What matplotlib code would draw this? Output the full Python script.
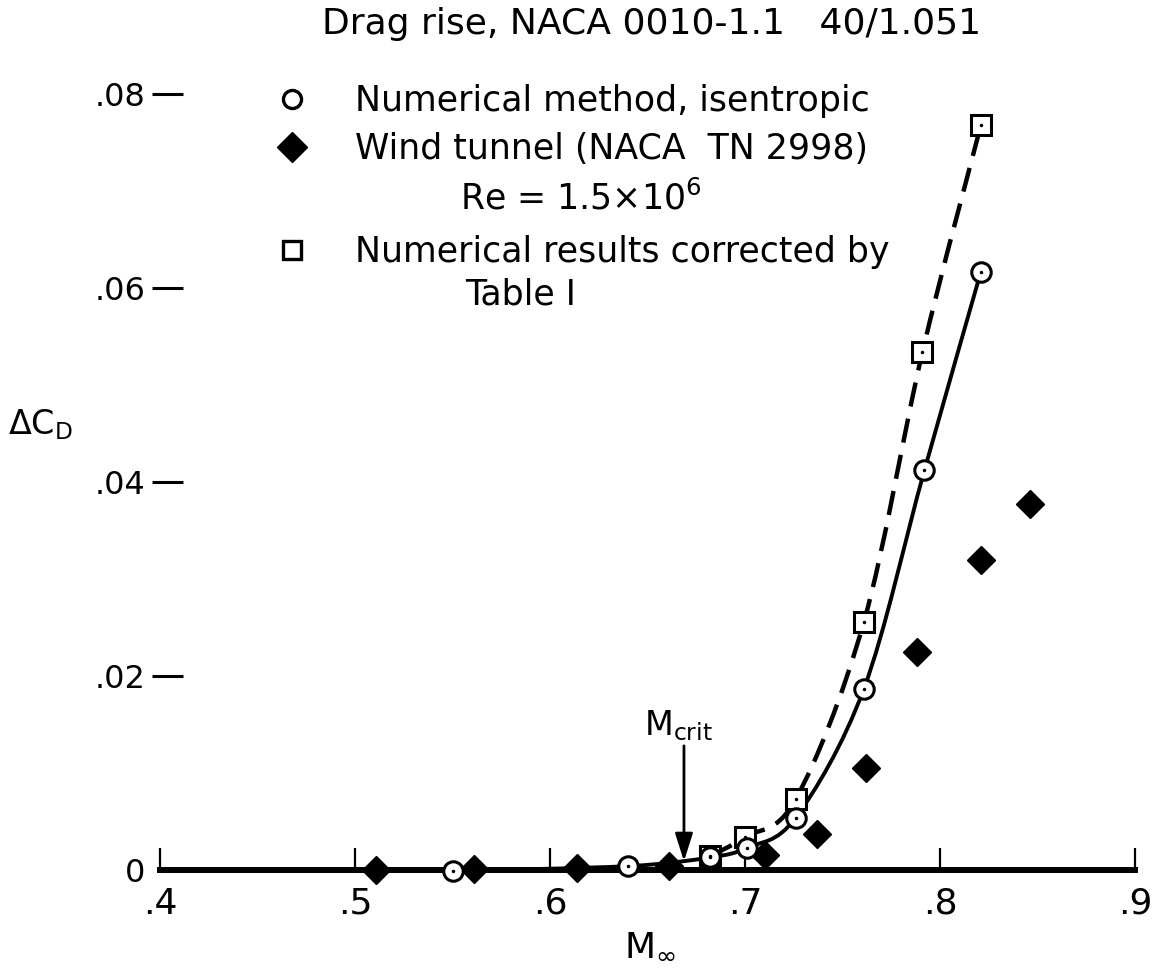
import matplotlib
matplotlib.use("Agg")
import matplotlib.pyplot as plt
import numpy as np
from matplotlib.path import Path
from matplotlib.patches import PathPatch
from matplotlib.lines import Line2D

plt.rcParams['font.family'] = ['DejaVu Sans']
plt.rcParams['mathtext.default'] = 'regular'

# numerical method, isentropic (open circles, solid curve)
mach_num = [0.550, 0.640, 0.682, 0.701, 0.726, 0.761, 0.792, 0.821]
cd_num = [-0.0001, 0.0004, 0.0013, 0.0023, 0.0054, 0.0187, 0.0412, 0.0617]

# numerical results corrected by Table I (open squares, dashed curve)
mach_corr = [0.682, 0.700, 0.726, 0.761, 0.791, 0.821]
cd_corr = [0.0014, 0.0034, 0.0073, 0.0256, 0.0534, 0.0768]

# wind tunnel, NACA TN 2998 (filled diamonds)
mach_wt = [0.511, 0.561, 0.614, 0.661, 0.710, 0.737, 0.762, 0.788, 0.821, 0.846]
cd_wt = [0.0000, 0.0001, 0.0002, 0.0004, 0.0015, 0.0037, 0.0105, 0.0225, 0.0320, 0.0377]

x_ticks = [0.4, 0.5, 0.6, 0.7, 0.8, 0.9]
x_ticklabels = ['.4', '.5', '.6', '.7', '.8', '.9']
y_ticks = [0.0, 0.02, 0.04, 0.06, 0.08]
y_ticklabels = ['0', '.02', '.04', '.06', '.08']

mach_crit = 0.6687

W, H = 1157, 969


def fx(px):
    return px / W


def fy(py):
    return 1 - py / H


def faired(xs, ys):
    # smooth fairing through the points (Catmull-Rom as cubic Bezier)
    pts = np.column_stack([xs, ys])
    verts = [pts[0]]
    codes = [Path.MOVETO]
    n = len(pts)
    for i in range(n - 1):
        p0 = pts[max(i - 1, 0)]
        p1 = pts[i]
        p2 = pts[i + 1]
        p3 = pts[min(i + 2, n - 1)]
        verts += [p1 + (p2 - p0) / 6, p2 - (p3 - p1) / 6, p2]
        codes += [Path.CURVE4] * 3
    return Path(verts, codes)


fig = plt.figure(figsize=(W / 100, H / 100), dpi=100)
ax = fig.add_axes([fx(160), 1 - 870 / H, 975 / W, 776 / H])
ax.set_xlim(0.4, 0.9)
ax.set_ylim(0, 0.08)

# curves
ax.add_patch(PathPatch(faired(mach_num, cd_num), fill=False, lw=2.8,
                       ec='black', zorder=2, clip_on=False))
ax.add_patch(PathPatch(faired(mach_corr, cd_corr), fill=False, lw=3.2,
                       ec='black', linestyle=(0, (5.5, 2.8)), capstyle='butt',
                       zorder=2, clip_on=False))

# markers
ax.plot(mach_wt, cd_wt, 'D', ms=14, color='black', mew=1, zorder=3, clip_on=False)
ax.plot(mach_corr, cd_corr, 's', ms=14, mfc='white', mec='black', mew=2.2,
        zorder=4, clip_on=False)
ax.plot(mach_num, cd_num, 'o', ms=14, mfc='white', mec='black', mew=2.2,
        zorder=5, clip_on=False)
ax.plot(mach_corr, cd_corr, '.', ms=3, color='black', zorder=6, clip_on=False)
ax.plot(mach_num, cd_num, '.', ms=3, color='black', zorder=6, clip_on=False)

# axes styling
for s in ['top', 'right']:
    ax.spines[s].set_visible(False)
ax.spines['bottom'].set_position(('data', 0))
ax.spines['bottom'].set_bounds(0.4, 0.9)
ax.spines['bottom'].set_linewidth(4.3)
ax.spines['left'].set_position(('data', 0.4118))
ax.spines['left'].set_visible(False)

ax.set_xticks(x_ticks)
ax.set_xticklabels(x_ticklabels)
ax.set_yticks(y_ticks)
ax.set_yticklabels(y_ticklabels)
ax.tick_params(axis='x', direction='in', length=16, width=1.6, pad=12, labelsize=26)
ax.tick_params(axis='y', direction='out', length=22, width=2.2, pad=5, labelsize=23)
ax.yaxis.get_major_ticks()[0].tick1line.set_visible(False)

ax.set_xlabel('$M_\\infty$', fontsize=26, va='center')
ax.xaxis.set_label_coords((650 - 160) / 975, (870 - 946) / 776)
ax.set_ylabel('$\\Delta C_D$', fontsize=24, rotation=0, va='center', ha='center')
ax.yaxis.set_label_coords((40 - 160) / 975, (870 - 425) / 776)

# critical Mach number arrow
ax.text(mach_crit - 0.003, 0.0131, '$M_{crit}$', fontsize=24, ha='center', va='bottom')
ax.annotate('', xy=(mach_crit, 0.0009), xytext=(mach_crit, 0.0128),
            arrowprops=dict(arrowstyle='-|>,head_length=0.85,head_width=0.27',
                            mutation_scale=20, lw=2, color='black',
                            shrinkA=0, shrinkB=0))

# title
fig.text(fx(652), fy(24), 'Drag rise, NACA 0010-1.1   40/1.051',
         fontsize=26, ha='center', va='center')

# legend, drawn by hand
leg_fs = 25
mk_x = 292
txt_x = 355
fig.add_artist(Line2D([fx(mk_x)], [fy(99)], transform=fig.transFigure, marker='o',
                      ms=13, mfc='white', mec='black', mew=2.4))
fig.text(fx(txt_x), fy(111), 'Numerical method, isentropic', fontsize=leg_fs,
         va='baseline')
fig.add_artist(Line2D([fx(mk_x)], [fy(147)], transform=fig.transFigure, marker='D',
                      ms=15, color='black'))
fig.text(fx(txt_x), fy(159), 'Wind tunnel (NACA  TN 2998)', fontsize=leg_fs,
         va='baseline')
fig.text(fx(460), fy(209), 'Re = 1.5×10$^6$', fontsize=leg_fs, va='baseline')
fig.add_artist(Line2D([fx(mk_x)], [fy(250)], transform=fig.transFigure, marker='s',
                      ms=13, mfc='white', mec='black', mew=2.4))
fig.text(fx(txt_x), fy(262), 'Numerical results corrected by', fontsize=leg_fs,
         va='baseline')
fig.text(fx(465), fy(305), 'Table I', fontsize=leg_fs, va='baseline')

fig.savefig('out.png', dpi=100)
